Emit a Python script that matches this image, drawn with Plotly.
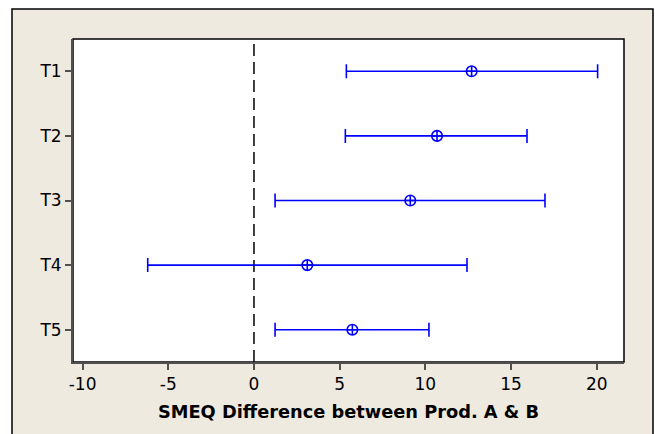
import plotly.graph_objects as go

categories = ["T1", "T2", "T3", "T4", "T5"]
means = [12.70, 10.68, 9.12, 3.11, 5.74]
lowers = [5.39, 5.33, 1.23, -6.20, 1.23]
uppers = [20.05, 15.93, 16.98, 12.43, 10.21]
x_ticks = [-10, -5, 0, 5, 10, 15, 20]
x_title = "SMEQ Difference between Prod. A & B"

ypos = list(range(1, len(categories) + 1))
err_plus = [u - m for u, m in zip(uppers, means)]
err_minus = [m - l for m, l in zip(means, lowers)]

BLUE = "#0000FF"
fig = go.Figure()
fig.add_trace(go.Scatter(
    x=means, y=ypos, mode="markers",
    marker=dict(symbol="circle-cross-open", size=10.5, color=BLUE, line=dict(width=1.6, color=BLUE)),
    error_x=dict(type="data", array=err_plus, arrayminus=err_minus, color=BLUE, thickness=1.6, width=7),
    showlegend=False, hoverinfo="skip",
))

W, H = 655, 434
L, R, T, B = 73, 31, 39, 72
pw, ph = W - L - R, H - T - B

def px_x(p):
    return (p - L) / pw

def px_y(p):
    return 1 - (p - T) / ph

shapes = [
    # outer beige frame
    dict(type="rect", xref="paper", yref="paper", layer="below",
         x0=px_x(12), x1=px_x(653), y0=px_y(445), y1=px_y(9),
         fillcolor="#EEEAE0", line=dict(color="black", width=1.5)),
    # white plot area with black frame
    dict(type="rect", xref="paper", yref="paper", layer="below",
         x0=0, x1=1, y0=0, y1=1, fillcolor="white", line=dict(color="black", width=1.5)),
    # dashed zero line
    dict(type="line", xref="x", yref="paper", x0=0, x1=0, y0=0, y1=1,
         line=dict(color="black", width=1.5, dash="12px,6px"), layer="below"),
]

fig.update_layout(
    width=W, height=H,
    margin=dict(l=L, r=R, t=T, b=B, pad=0),
    paper_bgcolor="white", plot_bgcolor="rgba(0,0,0,0)",
    shapes=shapes,
    font=dict(family="DejaVu Sans", size=16, color="black"),
    xaxis=dict(
        range=[-10.56, 21.59], tickvals=x_ticks, ticktext=[str(v) for v in x_ticks],
        showgrid=False, zeroline=False, showline=True, linecolor="#505050", linewidth=2,
        ticks="outside", ticklen=6, tickwidth=1.5, tickcolor="#505050",
        tickfont=dict(size=17),
        title=dict(text="<b>" + x_title + "</b>", font=dict(size=17.8), standoff=12),
    ),
    yaxis=dict(
        range=[5.5, 0.5], tickvals=ypos, ticktext=categories,
        showgrid=False, zeroline=False, showline=True, linecolor="#505050", linewidth=2,
        ticks="outside", ticklen=6, tickwidth=1.5, tickcolor="#505050",
        tickfont=dict(size=17),
    ),
)

fig.write_html("out.html")
